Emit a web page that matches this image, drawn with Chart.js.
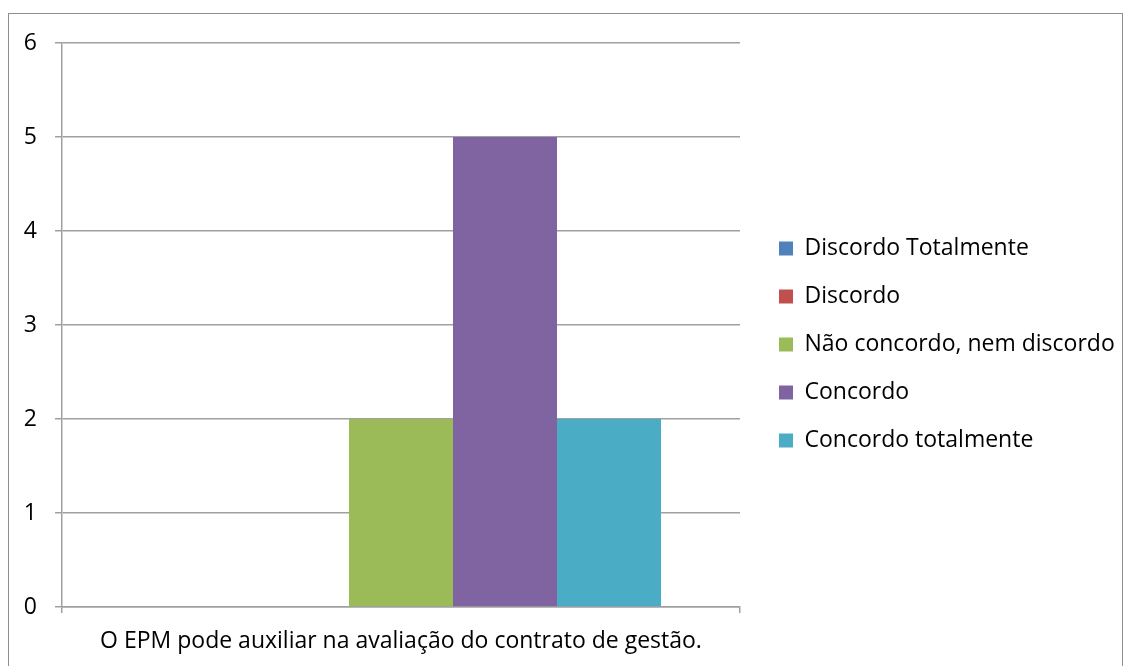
<!DOCTYPE html>
<html>
<head>
<meta charset="utf-8">
<script src="https://cdn.jsdelivr.net/npm/chart.js@4"></script>
<style>
  html, body { margin: 0; padding: 0; background: #fff; overflow: hidden; }
  #wrap { position: relative; width: 1131px; height: 666px; }
  #frame { position: absolute; left: 8px; top: 13px; width: 1113px; height: 700px; border: 1.5px solid #8f8f8f; }
  canvas { position: absolute; left: 0; top: 0; }
</style>
</head>
<body>
<div id="wrap">
  <div id="frame"></div>
  <canvas id="chart" width="1131" height="666"></canvas>
</div>
<script>
// Survey answers for a single question
const categories = ['O EPM pode auxiliar na avaliação do contrato de gestão.'];
const seriesNames = ['Discordo Totalmente', 'Discordo', 'Não concordo, nem discordo', 'Concordo', 'Concordo totalmente'];
const seriesValues = [[0], [0], [2], [5], [2]];
const seriesColors = ['#4F81BD', '#C0504D', '#9BBB59', '#8064A2', '#4BACC6'];
const yTicks = [0, 1, 2, 3, 4, 5, 6];

const FONT = '"Open Sans", Lato, sans-serif';
const gridColor = '#a0a0a0';

// fixed legend width so the plot area ends where the original does
const legendPlace = {
    id: 'legendPlace',
    afterInit(chart) {
        const legend = chart.legend;
        const fit = legend.fit.bind(legend);
        legend.fit = function () {
            fit();
            this.width = 391;
        };
    },
    afterLayout(chart) {
        const legend = chart.legend;
        legend.left += 14;
        legend.right += 14;
        legend.top -= 10;
        legend.bottom -= 10;
    }
};

const ctx = document.getElementById('chart').getContext('2d');

new Chart(ctx, {
    type: 'bar',
    data: {
        labels: categories,
        datasets: seriesNames.map((name, i) => ({
            label: name,
            data: seriesValues[i],
            backgroundColor: seriesColors[i],
            borderWidth: 0
        }))
    },
    plugins: [legendPlace],
    options: {
        responsive: false,
        animation: false,
        devicePixelRatio: 1,
        layout: { padding: { left: 20, top: 43, bottom: 0, right: 0 } },
        datasets: {
            bar: { categoryPercentage: 0.767, barPercentage: 1 }
        },
        plugins: {
            legend: {
                position: 'right',
                align: 'center',
                labels: {
                    boxWidth: 14,
                    boxHeight: 14,
                    padding: 25,
                    color: '#000',
                    font: { family: FONT, size: 23 }
                }
            },
            tooltip: { enabled: false }
        },
        scales: {
            x: {
                grid: { drawOnChartArea: false, drawTicks: true, tickLength: 6, color: gridColor, lineWidth: 1.5 },
                border: { color: gridColor, width: 1.5 },
                ticks: { color: '#000', padding: 15, font: { family: FONT, size: 23 } },
                afterFit(scale) { scale.height = 59; }
            },
            y: {
                min: 0,
                max: 6,
                afterBuildTicks(scale) { scale.ticks = yTicks.map(v => ({ value: v })); },
                grid: { color: gridColor, lineWidth: 1.5, tickLength: 7 },
                border: { color: gridColor, width: 1.5 },
                ticks: { color: '#000', padding: 18, font: { family: FONT, size: 23 } },
                afterFit(scale) { scale.width = 42; }
            }
        }
    }
});
</script>
</body>
</html>
